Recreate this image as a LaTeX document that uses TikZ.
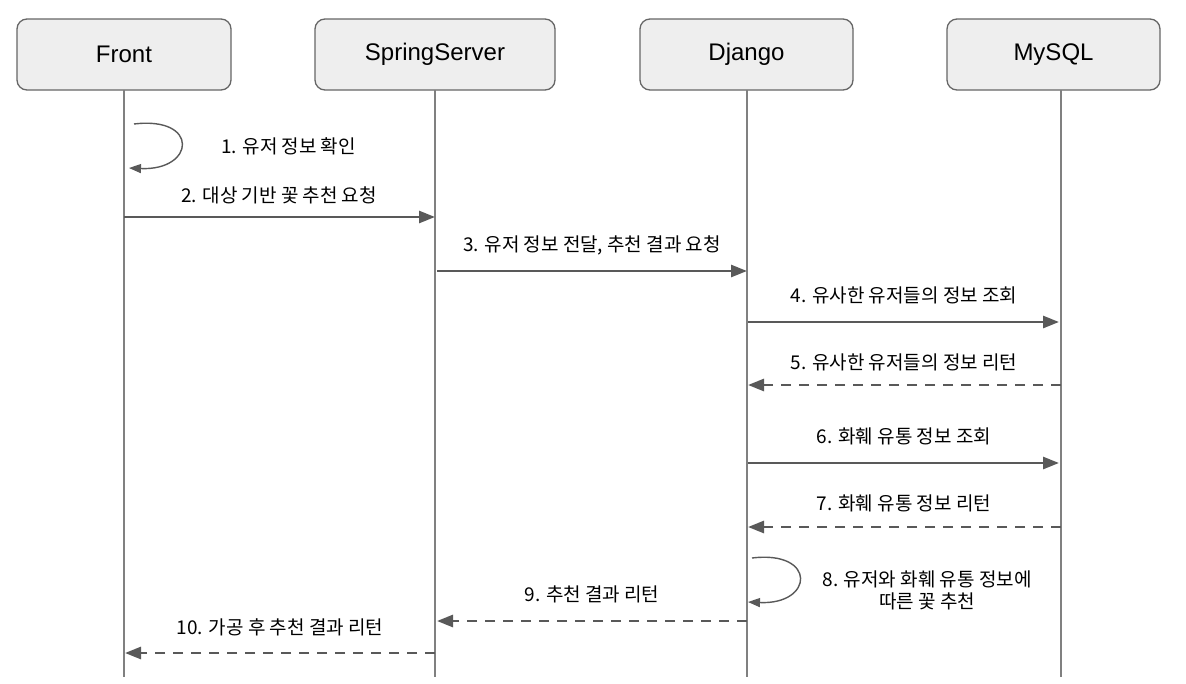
\documentclass[tikz,border=0pt]{standalone}
\usepackage{fontspec}
\setmainfont{Liberation Sans}
\newfontfamily\kr{Noto Sans CJK KR}
\usetikzlibrary{arrows.meta}
\definecolor{boxfill}{HTML}{EEEEEE}
\definecolor{boxline}{HTML}{666666}
\definecolor{lifeline}{HTML}{808080}
\definecolor{msg}{HTML}{595959}
\tikzset{
  actor/.style={draw=boxline, fill=boxfill, rounded corners=10pt, line width=1.3pt, minimum height=71pt, font=\fontsize{24}{28}\selectfont},
  life/.style={draw=lifeline, line width=1.3pt},
  call/.style={draw=msg, line width=2.7pt, -{Triangle[length=16pt,width=12pt]}},
  reply/.style={call, dash pattern=on 10pt off 8pt},
  self/.style={draw=msg, line width=1.4pt, -{Triangle[length=12pt,width=9pt]}},
  lab/.style={font=\kr\fontsize{19}{22}\selectfont, align=center},
}

\begin{document}
\begin{tikzpicture}[x=1pt, y=-1pt]
  \fill[white] (0,0) rectangle (1186,683);
  \useasboundingbox (0,0) rectangle (1186,683);
  % participants
  \node[actor, minimum width=214pt] (front) at (124,54.5) {Front};
  \node[actor, minimum width=240pt] (spring) at (435,54.5) {SpringServer};
  \node[actor, minimum width=213pt] (django) at (746.5,54.5) {Django};
  \node[actor, minimum width=213pt] (mysql) at (1053.5,54.5) {MySQL};
  % lifelines
  \foreach \n/\x in {front/124, spring/435, django/747, mysql/1061} {
    \coordinate (\n-top) at (\x,90);
    \coordinate (\n-bot) at (\x,677);
    \draw[life] (\n-top) -- (\n-bot);
  }
  % 1. self call on Front
  \coordinate (m1s) at (134,124);
  \coordinate (m1e) at (129,168);
  \draw[self] (m1s) .. controls +(66,-8) and +(66,3) .. (m1e);
  \node[lab] (l1) at (288.5,146) {1. 유저 정보 확인};
  % 2.
  \coordinate (m2s) at (124,217);
  \coordinate (m2e) at (435,217);
  \draw[call] (m2s) -- (m2e);
  \node[lab] (l2) at (279,195) {2. 대상 기반 꽃 추천 요청};
  % 3.
  \coordinate (m3s) at (437,271);
  \coordinate (m3e) at (747,271);
  \draw[call] (m3s) -- (m3e);
  \node[lab] (l3) at (592,245.5) {3. 유저 정보 전달, 추천 결과 요청};
  % 4.
  \coordinate (m4s) at (748,322);
  \coordinate (m4e) at (1059,322);
  \draw[call] (m4s) -- (m4e);
  \node[lab] (l4) at (904,295.5) {4. 유사한 유저들의 정보 조회};
  % 5.
  \coordinate (m5s) at (1061,385);
  \coordinate (m5e) at (748,385);
  \draw[reply] (m5s) -- (m5e);
  \node[lab] (l5) at (904,362.5) {5. 유사한 유저들의 정보 리턴};
  % 6.
  \coordinate (m6s) at (748,463);
  \coordinate (m6e) at (1059,463);
  \draw[call] (m6s) -- (m6e);
  \node[lab] (l6) at (904,436.5) {6. 화훼 유통 정보 조회};
  % 7.
  \coordinate (m7s) at (1061,527);
  \coordinate (m7e) at (748,527);
  \draw[reply] (m7s) -- (m7e);
  \node[lab] (l7) at (904,503.5) {7. 화훼 유통 정보 리턴};
  % 8. self call on Django
  \coordinate (m8s) at (752,558);
  \coordinate (m8e) at (748,602);
  \draw[self] (m8s) .. controls +(65,-8) and +(66,3) .. (m8e);
  \node[lab] (l8) at (927,590) {8. 유저와 화훼 유통 정보에\\따른 꽃 추천};
  % 9.
  \coordinate (m9s) at (747,621);
  \coordinate (m9e) at (437,621);
  \draw[reply] (m9s) -- (m9e);
  \node[lab] (l9) at (592,594) {9. 추천 결과 리턴};
  % 10.
  \coordinate (m10s) at (435,653);
  \coordinate (m10e) at (125,653);
  \draw[reply] (m10s) -- (m10e);
  \node[lab] (l10) at (280,627) {10. 가공 후 추천 결과 리턴};
\end{tikzpicture}
\end{document}
